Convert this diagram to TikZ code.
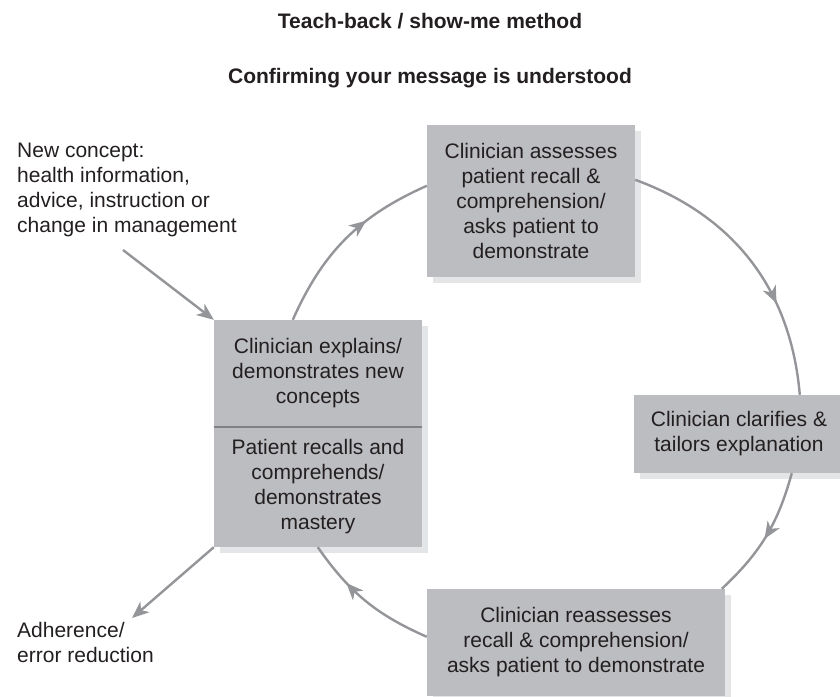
\documentclass[tikz,border=0pt]{standalone}
\usepackage{fontspec}
\setmainfont{Liberation Sans}
\usetikzlibrary{arrows.meta,calc,shadows,decorations.markings}
\definecolor{boxgray}{HTML}{BCBDC0}
\definecolor{shadegray}{HTML}{E4E5E7}
\definecolor{linegray}{HTML}{939598}
\definecolor{rulegray}{HTML}{808184}
\definecolor{inkgray}{HTML}{231F20}
\begin{document}
\begin{tikzpicture}[x=1pt,y=1pt,
  >={Stealth[length=17pt,width=14pt,inset=5pt]},
  txt/.style={font=\fontsize{21}{25}\selectfont, text=inkgray},
  stagebox/.style={txt, fill=boxgray, draw=none, align=center, inner sep=0pt,
    drop shadow={shadow xshift=6pt, shadow yshift=-6pt, fill=shadegray, opacity=1}},
  flow/.style={draw=linegray, line width=2.4pt},
  cyc/.style={flow, postaction={decorate},
    decoration={markings, mark=at position #1 with {\arrow{>}}}},
]
\useasboundingbox (0,0) rectangle (840,-696);

% headings
\node[txt, font=\fontsize{21}{25}\selectfont\bfseries, anchor=base] (title) at (430,-28) {Teach-back / show-me method};
\node[txt, font=\fontsize{21}{25}\selectfont\bfseries, anchor=base] (subtitle) at (430,-83) {Confirming your message is understood};

% stages of the loop
\node[stagebox, minimum width=208pt, minimum height=152pt] (assess) at (531,-201)
  {Clinician assesses\\patient recall \&\\comprehension/\\asks patient to\\demonstrate};
\node[stagebox, minimum width=210pt, minimum height=78pt] (clarify) at (739,-434)
  {Clinician clarifies \&\\tailors explanation};
\node[stagebox, minimum width=298pt, minimum height=107pt] (reassess) at (576,-642.5)
  {Clinician reassesses\\recall \& comprehension/\\asks patient to demonstrate};
\node[stagebox, minimum width=208pt, minimum height=227pt] (core) at (318,-433.5) {};
\node[txt, align=center] (explain) at (318,-373.5) {Clinician explains/\\demonstrates new\\concepts};
\node[txt, align=center] (recall) at (318,-487) {Patient recalls and\\comprehends/\\demonstrates\\mastery};
\draw[rulegray, line width=1.2pt] ($(core.west)+(0,6.5)$) -- ($(core.east)+(0,6.5)$);

% input and outcome
\node[txt, align=left, anchor=north west, inner sep=0pt] (newconcept) at (17,-143)
  {New concept:\\health information,\\advice, instruction or\\change in management};
\node[txt, align=left, anchor=north west, inner sep=0pt] (adherence) at (17,-622)
  {Adherence/\\error reduction};
\coordinate (infoot) at (123,-250);
\coordinate (outtip) at (132,-618);
\draw[flow, ->] (infoot) -- (core.north west);
\draw[flow, ->] (core.south west) -- (outtip);

% cycle arcs
\draw[cyc=0.64] ($(core.north west)+(79,0)$) to[bend left=21] ($(assess.north west)+(0,-61)$);
\draw[cyc=0.67] ($(assess.north east)+(0,-55)$) to[bend left=32.5] ($(clarify.north west)+(166,0)$);
\draw[cyc=0.52] ($(clarify.south west)+(158,0)$) to[bend left=15.7] ($(reassess.north west)+(295,0)$);
\draw[cyc=0.68] ($(reassess.north west)+(0,-48)$) to[bend left=15.7] ($(core.south west)+(104,0)$);
\end{tikzpicture}
\end{document}
